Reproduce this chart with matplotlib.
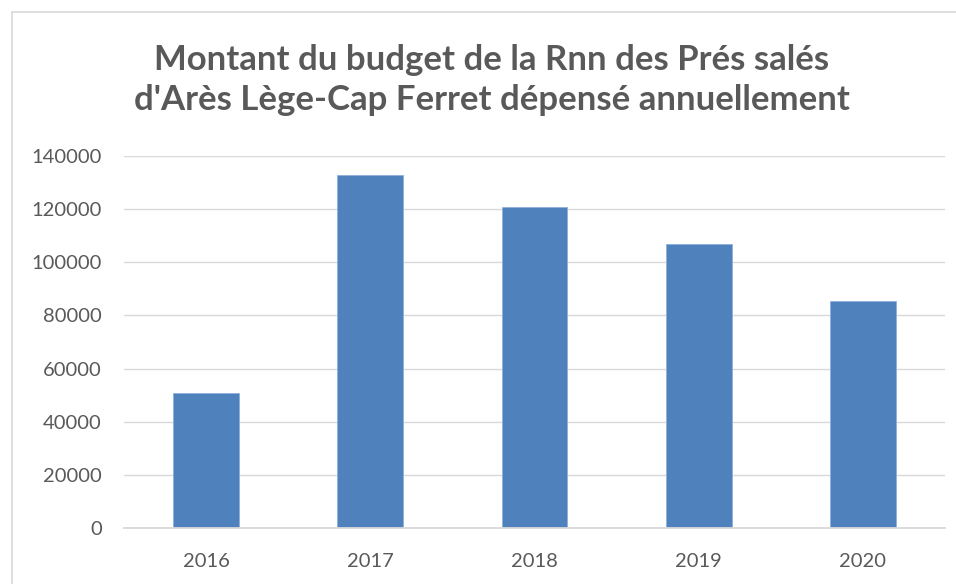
import matplotlib
matplotlib.use("Agg")
import matplotlib.pyplot as plt
from matplotlib.lines import Line2D

years = ["2016", "2017", "2018", "2019", "2020"]
budget = [50800, 132800, 120900, 106700, 85300]
yticks = [0, 20000, 40000, 60000, 80000, 100000, 120000, 140000]
title = "Montant du budget de la Rnn des Prés salés\nd'Arès Lège-Cap Ferret dépensé annuellement"

W, H = 956, 584
fig = plt.figure(figsize=(W / 100, H / 100), dpi=100)
fig.patch.set_facecolor("white")

# chart frame
fig.add_artist(Line2D([11.5 / W, 11.5 / W], [0, 1 - 12 / H], transform=fig.transFigure, color="#D9D9D9", lw=1.2))
fig.add_artist(Line2D([11.5 / W, 1], [1 - 12 / H, 1 - 12 / H], transform=fig.transFigure, color="#D9D9D9", lw=1.2))

ax = fig.add_axes([124 / W, 1 - 528 / H, (945 - 124) / W, (528 - 156) / H])
x = list(range(len(years)))
ax.bar(x, budget, width=0.4, color="#4F81BD", edgecolor="#8EB0DA", linewidth=0.6, zorder=3)
ax.set_xlim(-0.5, len(years) - 0.5)
ax.set_ylim(0, 140000)
ax.set_yticks(yticks)
ax.set_yticklabels([str(v) for v in yticks])
ax.set_xticks(x)
ax.set_xticklabels(years)
ax.grid(axis="y", color="#D9D9D9", lw=1.0, zorder=0)
for s in ["top", "right", "left"]:
    ax.spines[s].set_visible(False)
ax.spines["bottom"].set_color("#D9D9D9")
ax.spines["bottom"].set_linewidth(1.3)
ax.spines["bottom"].set_zorder(4)
ax.tick_params(axis="both", length=0, colors="#595959")
ax.tick_params(axis="y", pad=16)
ax.tick_params(axis="x", pad=18)
for lab in ax.get_xticklabels() + ax.get_yticklabels():
    lab.set_fontfamily(["Lato", "DejaVu Sans"])
    lab.set_fontsize(14.5)
    lab.set_color("#595959")

fig.text(492 / W, 1 - 80 / H, title, ha="center", va="center", fontsize=25, fontweight="bold",
         color="#595959", family=["Lato", "DejaVu Sans"], linespacing=1.3)

fig.savefig("out.png", dpi=100, facecolor="white")
